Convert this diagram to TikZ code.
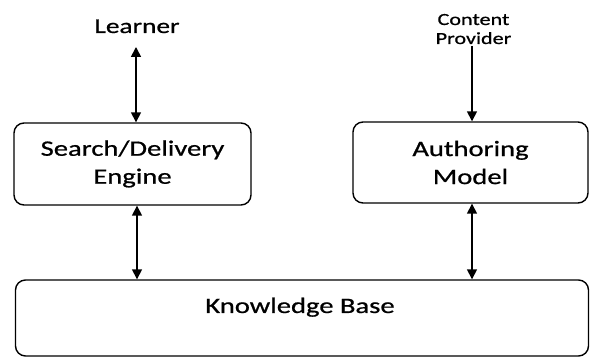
\documentclass[tikz,border=0pt]{standalone}
\usepackage{fontspec}
\newfontfamily\diagfont{Carlito}[FakeStretch=1.3,FakeBold=0.8]
\usetikzlibrary{arrows.meta}
\begin{document}
\begin{tikzpicture}[x=1pt,y=-1pt,
  box/.style={draw, line width=1.4pt, rounded corners=10pt, inner sep=0pt, align=center,
    font=\diagfont\fontsize{22}{28}\selectfont},
  txt/.style={inner sep=0pt, align=center, font=\diagfont\fontsize{22}{28}\selectfont},
  small/.style={inner sep=0pt, align=center, font=\diagfont\fontsize{17}{19}\selectfont},
  oneway/.style={line width=1.6pt, -{Triangle[width=10pt,length=10pt]}},
  twoway/.style={line width=1.6pt, {Triangle[width=10pt,length=10pt]}-{Triangle[width=10pt,length=10pt]}}
]
\useasboundingbox (0,0) rectangle (590,358);

% boxes
\node[box, minimum width=237pt, minimum height=82pt] (search) at (132.5,164)
  {Search/Delivery\\Engine};
\node[box, minimum width=235pt, minimum height=81pt] (author) at (470.5,162.5)
  {Authoring\\Model};
\node[box, minimum width=573pt, minimum height=76pt] (kb) at (302,318) {};
\node[txt, anchor=base] (kbtext) at (300,313) {Knowledge Base};

% actors
\node[txt, anchor=base, font=\diagfont\fontsize{21}{25}\selectfont] (learner) at (137,33) {Learner};
\node[small, anchor=base] (provider) at (473.5,44) {Content\\Provider};
\coordinate (provsrc) at (472,46);
\coordinate (lrnsrc) at (136,47);
\coordinate (leftlink) at ([xshift=4.5pt]search.south);
\coordinate (rightlink) at ([xshift=1.5pt]author.south);

% connectors
\draw[twoway] (lrnsrc) -- (lrnsrc |- search.north);
\draw[oneway] (provsrc) -- (provsrc |- author.north);
\draw[twoway] (leftlink) -- (leftlink |- kb.north);
\draw[twoway] (rightlink) -- (rightlink |- kb.north);
\end{tikzpicture}
\end{document}
